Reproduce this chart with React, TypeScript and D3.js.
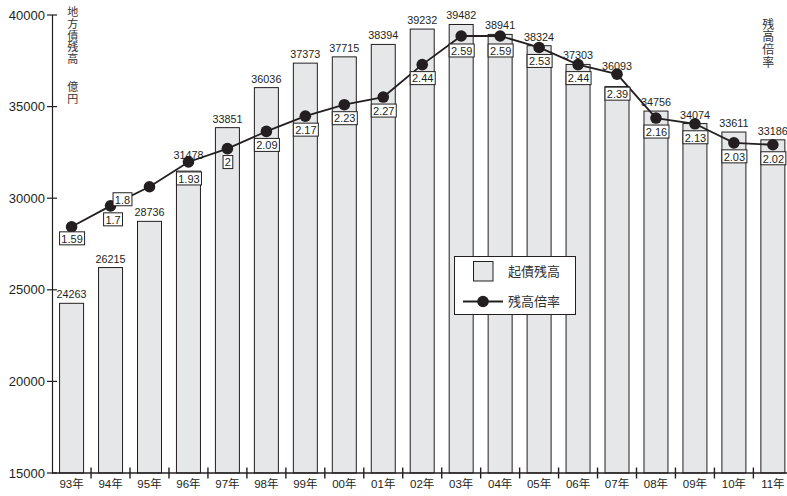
import React from "react";
import * as d3 from "d3";

const years = ["93年","94年","95年","96年","97年","98年","99年","00年","01年","02年","03年","04年","05年","06年","07年","08年","09年","10年","11年"];
const balance = [24263,26215,28736,31478,33851,36036,37373,37715,38394,39232,39482,38941,38324,37303,36093,34756,34074,33611,33186];
const ratio = [1.59,1.7,1.8,1.93,2,2.09,2.17,2.23,2.27,2.44,2.59,2.59,2.53,2.44,2.39,2.16,2.13,2.03,2.02];
const leftTicks = [15000,20000,25000,30000,35000,40000];
const leftTitleA = "地方債残高";
const leftTitleB = "億円";
const rightTitle = "残高倍率";
const legendBar = "起債残高";
const legendLine = "残高倍率";

// layout nudges for labels that were moved in the original (pixels)
const ratioNudge: Record<number, [number, number]> = { 0: [0, -2], 1: [2, 0], 2: [-27.5, -1], 3: [0, 3], 10: [0, 1], 11: [0, 1], 14: [0, 6] };
const valueNudge: Record<number, number> = { 3: -7, 14: -12 };

const W = 787, H = 496;
const LAT = "'Liberation Sans', Arial, Helvetica, sans-serif";
const CJK = "'Liberation Sans', 'Noto Sans CJK JP', sans-serif";
const JP = "'Noto Sans CJK JP', sans-serif";
const INK = "#231f20";

function textW(s: string, size: number) {
  let w = 0;
  for (const c of s) w += c === "." ? 0.278 : 0.556;
  return w * size;
}

const vertical: React.CSSProperties = { writingMode: "vertical-rl", textOrientation: "upright" } as React.CSSProperties;

export default function App() {
  const x = d3.scaleBand<string>().domain(years).range([52.1, 52.1 + 19 * 38.96]).paddingInner(0.384).paddingOuter(0.192);
  const y = d3.scaleLinear().domain([15000, 40000]).range([473, 15]);
  const y2 = d3.scaleLinear().domain([0.3, 2.7]).range([473, 15]);
  const step = x.step();
  const bw = x.bandwidth();
  const cx = (i: number) => (x(years[i]) as number) + bw / 2;

  const line = d3.line<number>().x((_, i) => cx(i)).y((d) => y2(d));

  return (
    <svg width={W} height={H} style={{ position: "absolute", left: 0, top: 0, background: "#fff" }}>
      <rect x={0} y={0} width={W} height={H} fill="#fff" />
      {balance.map((v, i) => (
        <rect key={"b" + i} x={x(years[i])} y={y(v)} width={bw} height={y(15000) - y(v)} fill="#e6e7e8" stroke={INK} strokeWidth={1} />
      ))}
      {balance.map((v, i) => (
        <text key={"v" + i} x={cx(i)} y={y(v) - 5 + (valueNudge[i] || 0)} textAnchor="middle" fontFamily={LAT} fontSize={10.8} fill={INK}>{v}</text>
      ))}
      <line x1={52.5} x2={52.5} y1={y(40000)} y2={y(15000)} stroke={INK} strokeWidth={1.2} />
      {leftTicks.map((t) => (
        <g key={"t" + t}>
          <line x1={47} x2={57} y1={y(t)} y2={y(t)} stroke={INK} strokeWidth={1.2} />
          <text x={45} y={y(t) + 4.6} textAnchor="end" fontFamily={LAT} fontSize={13} fill={INK}>{t}</text>
        </g>
      ))}
      <line x1={52} x2={W} y1={473} y2={473} stroke={INK} strokeWidth={1.4} />
      {years.map((yr, i) => (
        <g key={"c" + i}>
          {i > 0 && <line x1={x(yr)! - (step - bw) / 2} x2={x(yr)! - (step - bw) / 2} y1={467.5} y2={478.5} stroke={INK} strokeWidth={1.4} />}
          <text x={cx(i)} y={488} textAnchor="middle" fontFamily={CJK} fontSize={11.5} fill={INK}>{yr}</text>
        </g>
      ))}
      <text x={72.7} y={6.5} fontFamily={JP} fontSize={11} letterSpacing={0.75} fill="#333" style={vertical}>{leftTitleA}</text>
      <text x={72.7} y={81.5} fontFamily={JP} fontSize={11} letterSpacing={0.75} fill="#333" style={vertical}>{leftTitleB}</text>
      <text x={768.3} y={18} fontFamily={JP} fontSize={12} letterSpacing={0.8} fill="#333" style={vertical}>{rightTitle}</text>
      <path d={line(ratio) || ""} fill="none" stroke={INK} strokeWidth={1.8} />
      {ratio.map((r, i) => (
        <circle key={"d" + i} cx={cx(i)} cy={y2(r)} r={5.8} fill={INK} />
      ))}
      {ratio.map((r, i) => {
        const s = String(r);
        const tw = textW(s, 11);
        const [dx, dy] = ratioNudge[i] || [0, 0];
        const bx = cx(i) + dx + 0.5;
        const top = y2(r) + 7 + dy;
        return (
          <g key={"rl" + i}>
            <rect x={bx - tw / 2 - 1.8} y={top} width={tw + 3.6} height={13} fill="#fff" stroke={INK} strokeWidth={1} />
            <text x={bx} y={top + 10.8} textAnchor="middle" fontFamily={LAT} fontSize={11} fill={INK}>{s}</text>
          </g>
        );
      })}
      <rect x={454.5} y={256.5} width={121} height={58} fill="#fff" stroke={INK} strokeWidth={1} />
      <rect x={473.5} y={261.5} width={19.5} height={19.5} fill="#e6e7e8" stroke={INK} strokeWidth={1} />
      <text x={508} y={276} fontFamily={JP} fontSize={13} fill="#333">{legendBar}</text>
      <line x1={463} x2={503} y1={301.5} y2={301.5} stroke={INK} strokeWidth={1.8} />
      <circle cx={483} cy={301.5} r={5.8} fill={INK} />
      <text x={508} y={306} fontFamily={JP} fontSize={13} fill="#333">{legendLine}</text>
    </svg>
  );
}
